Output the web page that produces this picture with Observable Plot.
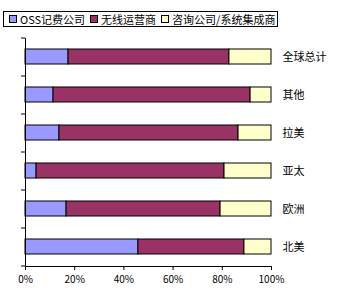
<!DOCTYPE html>
<html>
<head>
<meta charset="utf-8">
<script src="https://cdn.jsdelivr.net/npm/d3@7"></script>
<script src="https://cdn.jsdelivr.net/npm/@observablehq/plot@0.6"></script>
<style>
  html, body { margin: 0; padding: 0; background: #fff; }
  body { width: 340px; height: 305px; overflow: hidden; font-family: "Noto Sans CJK SC", sans-serif; }
  #legendWrap { height: 30px; position: relative; }
  #legend {
    position: absolute; left: 3px; top: 11px; width: 273px; height: 14px;
    border: 1px solid #000; display: flex; align-items: center;
    font-size: 11px; line-height: 14px; color: #000; white-space: nowrap;
  }
  .item { display: flex; align-items: center; margin-left: 5px; }
  .sw { width: 6px; height: 6px; border: 1px solid #000; margin-right: 3px; }
  #chart svg { display: block; }
</style>
</head>
<body>
<div id="legendWrap"><div id="legend"></div></div>
<div id="chart"></div>
<script>
// Data (percent shares, top to bottom)
const categories = ["全球总计", "其他", "拉美", "亚太", "欧洲", "北美"];
const seriesNames = ["OSS记费公司", "无线运营商", "咨询公司/系统集成商"];
const ossValues = [17.5, 11.4, 13.8, 4.5, 16.7, 45.9];
const wirelessValues = [65.4, 80.1, 72.8, 76.4, 62.6, 43.1];
const consultValues = [17.1, 8.5, 13.4, 19.1, 20.7, 11.0];
const xTicks = [0, 20, 40, 60, 80, 100];
const seriesColors = ["#9999FF", "#993366", "#FFFFCC"];

const seriesValues = [ossValues, wirelessValues, consultValues];
const rows = [];
seriesNames.forEach((s, i) => {
  categories.forEach((c, j) => rows.push({ category: c, series: s, value: seriesValues[i][j] }));
});

// Legend
const legend = document.getElementById("legend");
seriesNames.forEach((s, i) => {
  const item = document.createElement("div");
  item.className = "item";
  const sw = document.createElement("div");
  sw.className = "sw";
  sw.style.background = seriesColors[i];
  const t = document.createElement("span");
  t.textContent = s;
  item.appendChild(sw);
  item.appendChild(t);
  legend.appendChild(item);
});

const chart = Plot.plot({
  width: 340,
  height: 275,
  marginTop: 8,
  marginBottom: 39,
  marginLeft: 25,
  marginRight: 69,
  style: { fontFamily: "'Noto Sans CJK SC', sans-serif", fontSize: "11px", color: "#000", background: "#fff" },
  x: { domain: [0, 100] },
  y: { domain: categories, paddingInner: 0.6, paddingOuter: 0.3 },
  color: { domain: seriesNames, range: seriesColors },
  marks: [
    Plot.barX(rows, Plot.stackX({ y: "category", x: "value", fill: "series", stroke: "#000", strokeWidth: 1, order: null })),
    Plot.ruleY(categories, { y: d => d, x1: 0, x2: -1.6, dy: -19, stroke: "#000" }),
    Plot.ruleY(categories.slice(-1), { y: d => d, x1: 0, x2: -1.6, dy: 19, stroke: "#000" }),
    Plot.frame({ anchor: "left", stroke: "#000" }),
    Plot.frame({ anchor: "bottom", stroke: "#000" }),
    Plot.axisX({ ticks: xTicks, tickFormat: d => d + "%", tickSize: 4, tickPadding: 5, fontSize: 10, label: null }),
    Plot.axisY({ anchor: "right", tickSize: 0, tickPadding: 11, label: null, fontSize: 11 })
  ]
});
document.getElementById("chart").appendChild(chart);
</script>
</body>
</html>
